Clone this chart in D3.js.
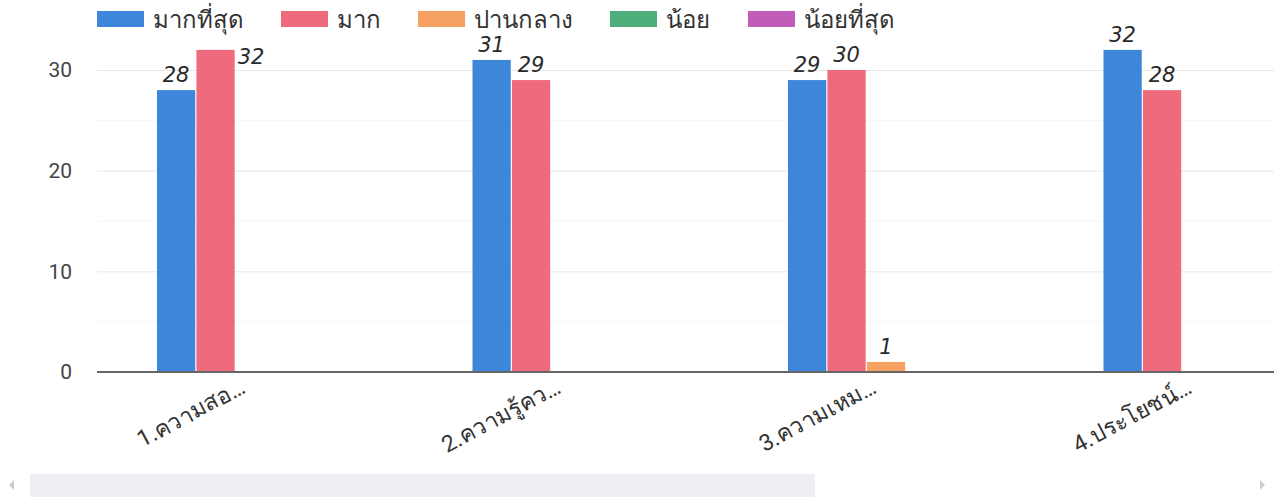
<!DOCTYPE html>
<html>
<head>
<meta charset="utf-8">
<script src="https://cdn.jsdelivr.net/npm/d3@7"></script>
<style>
html,body{margin:0;padding:0;background:#fff;overflow:hidden;}
svg{display:block;}
</style>
</head>
<body>
<svg id="chart" width="1274" height="497"></svg>
<script>
const categories = ["1.ความสอ…", "2.ความรู้คว…", "3.ความเหม…", "4.ประโยชน์…"];
const seriesNames = ["มากที่สุด", "มาก", "ปานกลาง", "น้อย", "น้อยที่สุด"];
const seriesColors = ["#3d86d9", "#ee6a7c", "#f6a062", "#4dae7b", "#c25cb9"];
const valMost = [28, 31, 29, 32];
const valMuch = [32, 29, 30, 28];
const valMedium = [0, 0, 1, 0];
const valLittle = [0, 0, 0, 0];
const valLeast = [0, 0, 0, 0];
const yTicks = [0, 10, 20, 30];
const yMinorTicks = [5, 15, 25];

const seriesValues = [valMost, valMuch, valMedium, valLittle, valLeast];
const svg = d3.select("#chart");
const font = "Roboto, 'Noto Sans', Arial, sans-serif";

const plotLeft = 97, step = 315.5;
const x0 = d3.scaleBand().domain(categories).range([plotLeft, plotLeft + step * categories.length]);
const x1 = d3.scaleBand().domain(seriesNames).range([60, 256]).paddingInner(0.03);
const y = d3.scaleLinear().domain([0, 30]).range([372, 70]);

// minor gridlines
svg.append("g").selectAll("line").data(yMinorTicks).join("line")
  .attr("x1", plotLeft).attr("x2", 1274)
  .attr("y1", d => y(d)).attr("y2", d => y(d))
  .attr("stroke", "#f6f6f6").attr("stroke-width", 1);

// major gridlines + y labels via axis
const yAxis = d3.axisLeft(y).tickValues(yTicks).tickSize(-(1274 - plotLeft)).tickPadding(25);
const gy = svg.append("g").attr("transform", `translate(${plotLeft},0)`).call(yAxis);
gy.select(".domain").remove();
gy.selectAll(".tick line").attr("stroke", "#e8e8e8");
gy.selectAll(".tick text").attr("fill", "#444").style("font-family", font).style("font-size", "21px");

// bars
const groups = svg.append("g").selectAll("g").data(categories).join("g")
  .attr("transform", d => `translate(${x0(d)},0)`);
groups.selectAll("rect").data((c, i) => seriesNames.map((s, k) => ({s, k, v: seriesValues[k][i]})))
  .join("rect")
  .attr("x", d => x1(d.s)).attr("width", x1.bandwidth())
  .attr("y", d => y(d.v)).attr("height", d => y(0) - y(d.v))
  .attr("fill", d => seriesColors[d.k]);

// handwritten value annotations (moved beside the bar when it would hit the legend)
groups.each(function(c, i) {
  const gx0 = x0(c);
  d3.select(this).selectAll("text.val")
    .data(seriesNames.map((s, k) => ({s, k, v: seriesValues[k][i]})).filter(d => d.v > 0))
    .join("text").attr("class", "val")
    .each(function(d) {
      const cx = x1(d.s) + x1.bandwidth() / 2;
      const ty = y(d.v) - 8;
      const nearLegend = ty < 45 && gx0 + cx < 900;
      d3.select(this)
        .attr("x", nearLegend ? x1(d.s) + x1.bandwidth() + 3 : cx)
        .attr("y", nearLegend ? y(d.v) + 14 : ty)
        .attr("text-anchor", nearLegend ? "start" : "middle");
    })
    .attr("fill", "#2a2a2a")
    .style("font-family", "'DejaVu Sans', sans-serif")
    .style("font-style", "italic")
    .style("font-weight", "200")
    .style("font-size", "21px")
    .text(d => d.v);
});

// baseline
svg.append("line").attr("x1", plotLeft).attr("x2", 1274)
  .attr("y1", y(0)).attr("y2", y(0)).attr("stroke", "#666").attr("stroke-width", 2);

// x labels
const xAxis = d3.axisBottom(x0).tickSize(0).tickPadding(0);
const gxa = svg.append("g").attr("transform", `translate(0,${y(0)})`).call(xAxis);
gxa.select(".domain").remove();
gxa.selectAll(".tick text")
  .attr("fill", "#333").style("font-family", font).style("font-size", "23px")
  .attr("text-anchor", "end").attr("dy", 0)
  .attr("transform", "translate(-8,20) rotate(-28)");

// legend
const legendX = [97, 281, 418, 610, 748];
const lg = svg.append("g").selectAll("g").data(seriesNames).join("g")
  .attr("transform", (d, i) => `translate(${legendX[i]},0)`);
lg.append("rect").attr("x", 0).attr("y", 11).attr("width", 47).attr("height", 16)
  .attr("fill", (d, i) => seriesColors[i]);
lg.append("text").attr("x", 56).attr("y", 28)
  .attr("fill", "#333").style("font-family", font).style("font-size", "24px")
  .text(d => d);

// scrollbar
svg.append("rect").attr("x", 30).attr("y", 474).attr("width", 785).attr("height", 23).attr("fill", "#eeeef3");
svg.append("path").attr("d", "M14,480 L9,485 L14,490 Z").attr("fill", "#ccc");
svg.append("path").attr("d", "M1260,480 L1265,485 L1260,490 Z").attr("fill", "#ccc");
</script>
</body>
</html>
